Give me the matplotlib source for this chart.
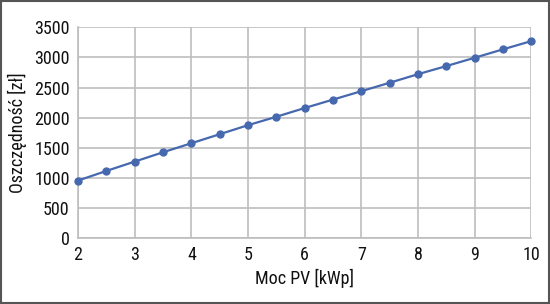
import matplotlib
matplotlib.use("Agg")
import matplotlib.pyplot as plt
from matplotlib.patches import Rectangle

moc_pv = [2, 2.5, 3, 3.5, 4, 4.5, 5, 5.5, 6, 6.5, 7, 7.5, 8, 8.5, 9, 9.5, 10]
oszczednosc = [955, 1115, 1270, 1425, 1575, 1725, 1875, 2015, 2160, 2300, 2440,
               2580, 2722, 2857, 2995, 3135, 3272]
x_ticks = [2, 3, 4, 5, 6, 7, 8, 9, 10]
y_ticks = [0, 500, 1000, 1500, 2000, 2500, 3000, 3500]

plt.rcParams['font.family'] = ['Roboto Condensed', 'DejaVu Sans']

fig = plt.figure(figsize=(5.5, 3.04), dpi=100)
ax = fig.add_axes([0.142, 0.217, 0.824, 0.693])

ax.plot(moc_pv, oszczednosc, color='#4668AE', linewidth=1.6, marker='o',
        markersize=5, zorder=3, clip_on=False)

ax.set_xlim(2, 10)
ax.set_ylim(0, 3500)
ax.set_xticks(x_ticks)
ax.set_yticks(y_ticks)
ax.grid(True, color='#BDBDBD', linewidth=1.2)
ax.set_axisbelow(True)
for s in ['top', 'right']:
    ax.spines[s].set_visible(False)
for s in ['left', 'bottom']:
    ax.spines[s].set_color('#BDBDBD')
    ax.spines[s].set_linewidth(1.2)
ax.tick_params(length=0, labelsize=13, colors='#111111', pad=6)
ax.set_xlabel('Moc PV [kWp]', fontsize=13, labelpad=3, color='#111111')
ax.set_ylabel('Oszczędność [zł]', fontsize=13, labelpad=5, color='#111111')

fig.patches.append(Rectangle((0.002, 0.003), 0.996, 0.994, transform=fig.transFigure,
                             fill=False, edgecolor='#555555', linewidth=1.5))

fig.savefig('out.png', dpi=100)
